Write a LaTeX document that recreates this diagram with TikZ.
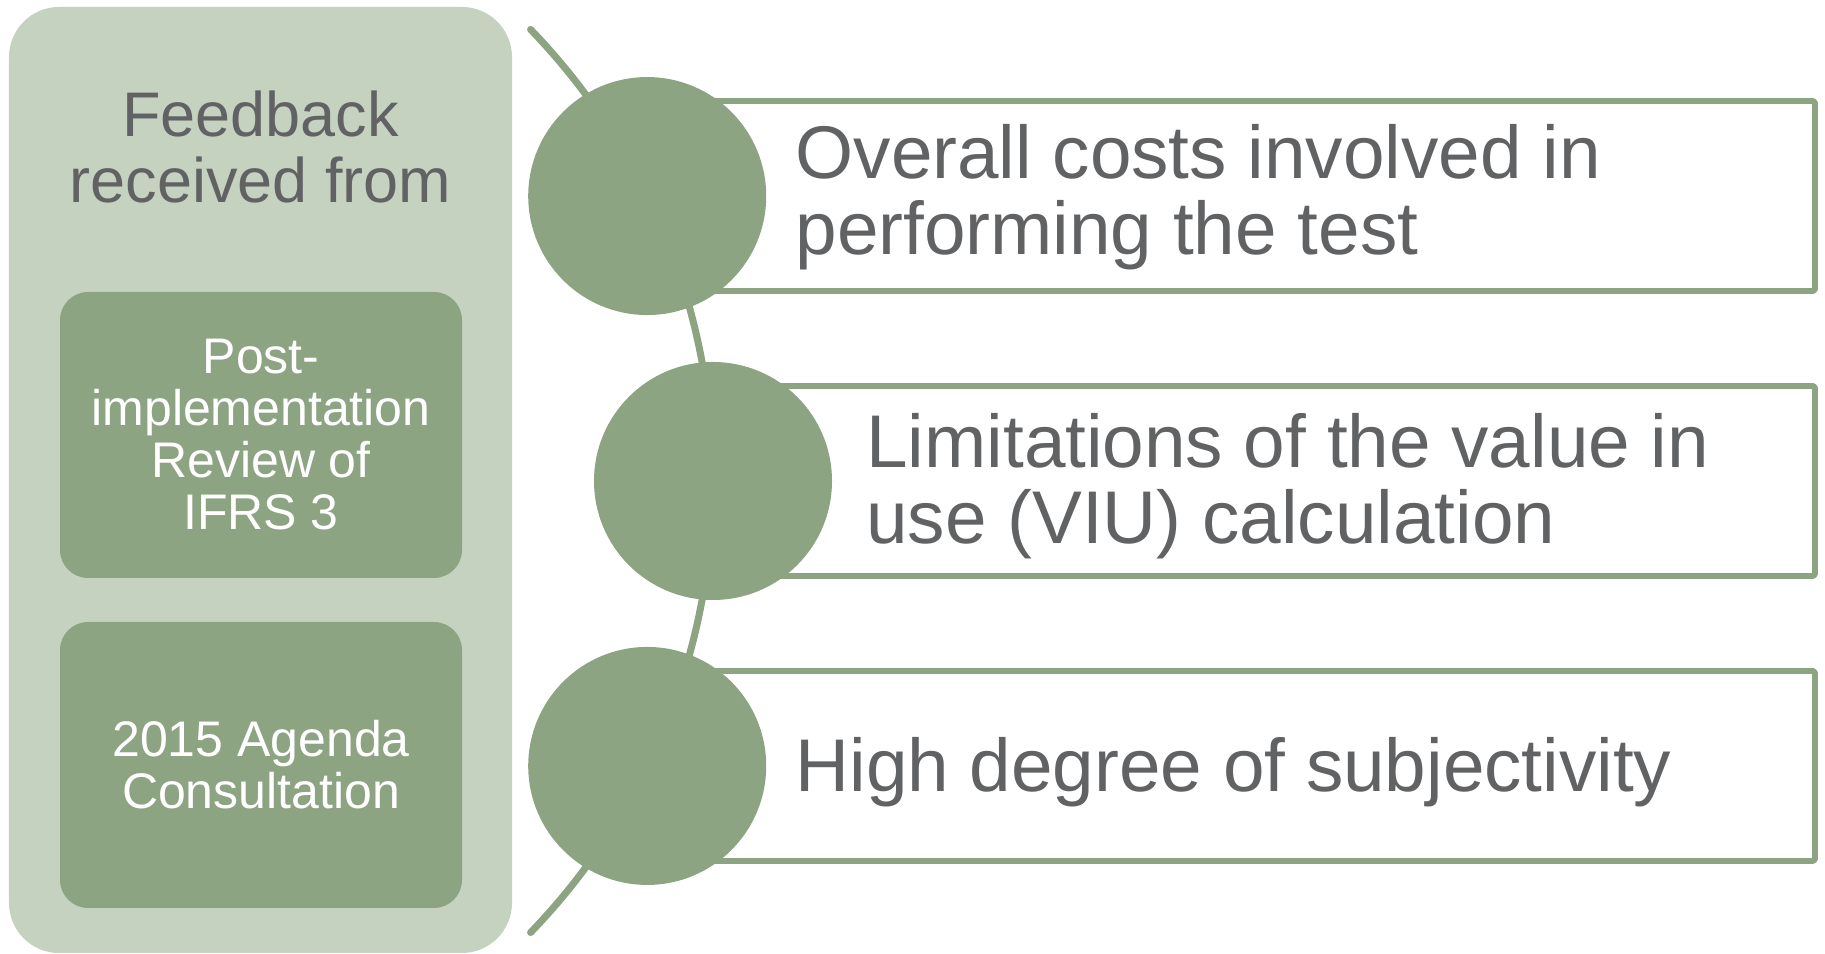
\documentclass[tikz,border=0pt]{standalone}
\usepackage{fontspec}
\setmainfont{Liberation Sans}
\usetikzlibrary{calc}
\definecolor{panelgreen}{HTML}{C6D2C0}
\definecolor{darkgreen}{HTML}{8DA483}
\definecolor{textgray}{HTML}{606264}
\begin{document}
\begin{tikzpicture}[line join=round, line cap=round,
	srcbox/.style={fill=darkgreen, rounded corners=0.56cm, minimum width=8.04cm, minimum height=5.72cm, inner sep=0pt, text=white, align=center, font=\fontsize{28.45}{29.6}\selectfont},
	itembox/.style={draw=darkgreen, fill=white, line width=3.3pt, rounded corners=1pt},
	dot/.style={circle, fill=darkgreen, minimum size=4.76cm, inner sep=0pt},
	itemtxt/.style={anchor=west, inner sep=0pt, align=left, text=textgray, font=\fontsize{42.5}{43.25}\selectfont}]
	\useasboundingbox (0,0) rectangle (36.5,19.08);
	\fill[panelgreen, rounded corners=1cm] (0.18,0.02) rectangle (10.24,18.94);
	\node[text=textgray, align=center, inner sep=0pt, font=\fontsize{35.85}{37.56}\selectfont] (fb) at (5.21,16.15) {Feedback\\received from};
	\node[srcbox] (s1) at (5.22,10.38) {Post-\\implementation\\Review of\\IFRS 3};
	\node[srcbox] (s2) at (5.22,3.78) {2015 Agenda\\Consultation};
	\coordinate (O) at (1.26,9.46);
	\coordinate (E) at (36.3,0);
	\draw[darkgreen, line width=4pt] ($(O)+(44:13)$) arc(44:-44:13);
	\foreach \n/\a in {1/26,2/0,3/-26}
	\path ($(O)+(\a:13)$) coordinate (c\n) ++(0,1.9) coordinate (t\n) ++(0,-3.8) coordinate (b\n);
	\foreach \n in {1,2,3} \draw[itembox] (t\n) rectangle (b\n -| E);
	\foreach \n in {1,2,3} \node[dot] (k\n) at (c\n) {};
	\node[itemtxt] (i1) at ($(c1)+(2.96,-0.02)$) {Overall costs involved in\\performing the test};
	\node[itemtxt] (i2) at ($(c2)+(3.06,-0.10)$) {Limitations of the value in\\use (VIU) calculation};
	\node[itemtxt] (i3) at ($(c3)+(2.96,-0.13)$) {High degree of subjectivity};
\end{tikzpicture}
\end{document}
